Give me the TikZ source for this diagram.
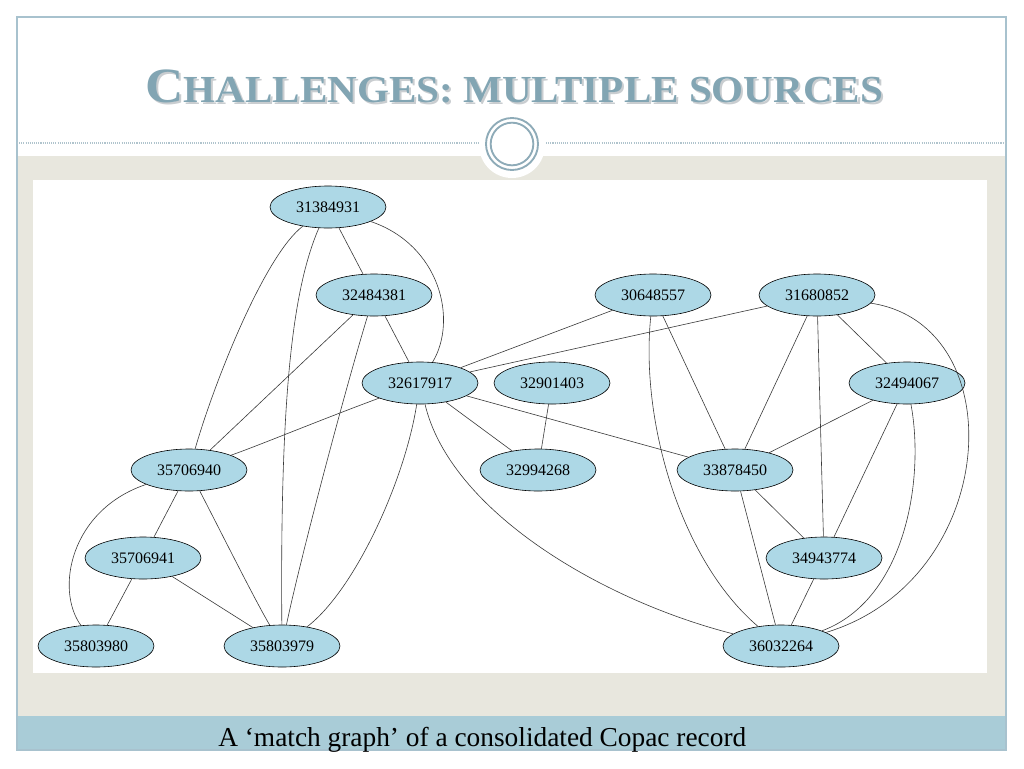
\documentclass[tikz,border=0pt]{standalone}
\usepackage{fontspec}
\usepackage{graphicx}
\setmainfont{Liberation Serif}
\usetikzlibrary{shapes.geometric}
\definecolor{nodeblue}{HTML}{ADD8E6}
\definecolor{beige}{HTML}{E8E7DE}
\definecolor{bandblue}{HTML}{A9CCD7}
\definecolor{frameblue}{HTML}{A8C2CE}
\definecolor{titleblue}{HTML}{82A5B3}
\definecolor{ringblue}{HTML}{8EABB8}
\definecolor{edgegray}{HTML}{3A3A3A}
\definecolor{shadowgray}{HTML}{C9CDD0}
\newcommand{\slidetitletext}{\resizebox{553.5pt}{24.5pt}{\bfseries\fontsize{40}{40}\selectfont C\fontsize{31}{31}\selectfont HALLENGES: MULTIPLE SOURCES}}
\begin{document}
\begin{tikzpicture}[x=0.75pt,y=-0.75pt,
  rec/.style={ellipse, draw=black, line width=0.45pt, fill=nodeblue,
    minimum width=87pt, minimum height=31.5pt, inner sep=0pt,
    font=\fontsize{12}{12}\selectfont},
  link/.style={draw=edgegray, line width=0.45pt},
  ring/.style={draw=ringblue, line width=1.4pt}]
\useasboundingbox (0,0) rectangle (1024,768);
\fill[white] (0,0) rectangle (1024,768);
% background areas
\fill[beige] (17,156) rectangle (1006,716);
\fill[white] (33,180) rectangle (987,673);
\fill[bandblue] (17,716) rectangle (1006,750);
\draw[frameblue, line width=0.8pt] (17,17) rectangle (1006,750);
\draw[ringblue!70, line width=0.8pt, dash pattern=on 0.8pt off 0.8pt] (17,143) -- (1006,143);
\fill[white] (512,145) circle[radius=24.75pt];
\draw[ring] (512,144) circle[radius=19.5pt];
\draw[ring] (512,144) circle[radius=16pt];
% title
\node[anchor=base west, inner sep=0pt, text=shadowgray] (titleshadow) at (147,104) {\slidetitletext};
\node[anchor=base west, inner sep=0pt, text=titleblue] (title) at (145,102) {\slidetitletext};
% caption
\node[anchor=base west, inner sep=0pt] (caption) at (218,746) {\resizebox{396pt}{!}{\fontsize{20}{20}\selectfont A ‘match graph’ of a consolidated Copac record}};
% nodes
\node[rec] (A) at (328,207) {31384931};
\node[rec] (B) at (374,295) {32484381};
\node[rec] (C) at (420,383) {32617917};
\node[rec] (D) at (552,383) {32901403};
\node[rec] (E) at (653,295) {30648557};
\node[rec] (F) at (817,295) {31680852};
\node[rec] (G) at (907,383) {32494067};
\node[rec] (H) at (189,470) {35706940};
\node[rec] (I) at (538,470) {32994268};
\node[rec] (J) at (735,470) {33878450};
\node[rec] (K) at (143,558) {35706941};
\node[rec] (L) at (824,558) {34943774};
\node[rec] (M) at (96,646) {35803980};
\node[rec] (N) at (282,646) {35803979};
\node[rec] (O) at (781,646) {36032264};
% edges
\draw[link] (A) -- (B);
\draw[link] (A) .. controls (440,245) and (458,320) .. (C);
\draw[link] (A) .. controls (265,255) and (215,380) .. (H);
\draw[link] (A) .. controls (292,290) and (280,400) .. (N);
\draw[link] (B) -- (C);
\draw[link] (B) -- (H);
\draw[link] (B) .. controls (345,390) and (300,560) .. (N);
\draw[link] (C) -- (E);
\draw[link] (C) -- (F);
\draw[link] (C) .. controls (320,420) and (260,445) .. (H);
\draw[link] (C) .. controls (405,480) and (355,590) .. (N);
\draw[link] (C) -- (I);
\draw[link] (C) -- (J);
\draw[link] (C) .. controls (450,510) and (600,600) .. (O);
\draw[link] (D) -- (I);
\draw[link] (E) -- (J);
\draw[link] (E) .. controls (640,420) and (680,560) .. (O);
\draw[link] (F) -- (J);
\draw[link] (F) -- (L);
\draw[link] (F) -- (G);
\draw[link] (F) .. controls (1015,325) and (1000,580) .. (O);
\draw[link] (G) -- (J);
\draw[link] (G) -- (L);
\draw[link] (G) .. controls (925,480) and (905,600) .. (O);
\draw[link] (J) -- (L);
\draw[link] (J) -- (O);
\draw[link] (L) -- (O);
\draw[link] (H) -- (K);
\draw[link] (H) .. controls (70,510) and (55,590) .. (M);
\draw[link] (H) .. controls (225,540) and (255,600) .. (N);
\draw[link] (K) -- (M);
\draw[link] (K) -- (N);
\end{tikzpicture}
\end{document}
